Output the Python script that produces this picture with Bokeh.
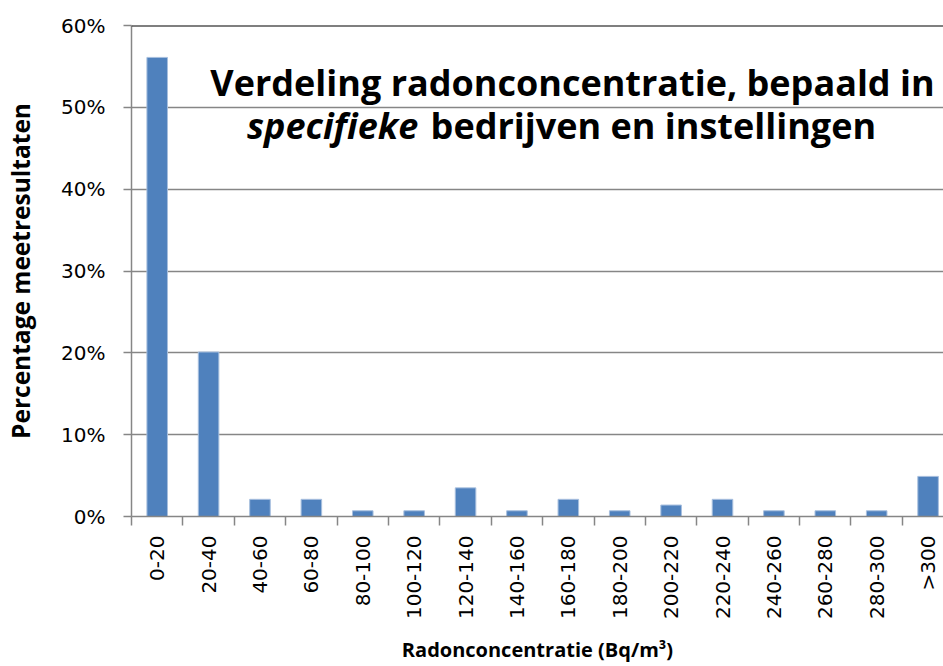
import numpy as np
from bokeh.plotting import figure
from bokeh.models import (Range1d, FixedTicker, PrintfTickFormatter, Span, Label,
                          ColumnDataSource)
from bokeh.embed import file_html
from bokeh.resources import INLINE

# ---- data ----
categories = ["0-20", "20-40", "40-60", "60-80", "80-100", "100-120", "120-140",
              "140-160", "160-180", "180-200", "200-220", "220-240", "240-260",
              "260-280", "280-300", ">300"]
percentages = [56.1, 20.1, 2.1, 2.1, 0.7, 0.7, 3.5, 0.7, 2.1, 0.7, 1.4, 2.1,
               0.7, 0.7, 0.7, 4.9]
y_ticks = [0, 10, 20, 30, 40, 50, 60]
title_line1 = "Verdeling radonconcentratie, bepaald in"
title_italic = "specifieke"
title_rest = "bedrijven en instellingen"
x_title = "Radonconcentratie (Bq/m³)"
y_title = "Percentage meetresultaten"

centers = np.arange(len(categories)) + 0.5
bounds = list(np.arange(len(categories) + 1))
src = ColumnDataSource(dict(x=centers, top=percentages, cat=categories))

GRID = "#868686"
TICK_FONT = "DejaVu Sans"
BOLD_FONT = "Open Sans"

p = figure(width=943, height=666, output_backend="svg", toolbar_location=None,
           x_range=Range1d(0, 15.8), y_range=Range1d(0, 60),
           min_border_left=131, min_border_top=25, min_border_right=0,
           min_border_bottom=148)
p.outline_line_color = None
p.background_fill_color = "white"
p.border_fill_color = "white"

p.vbar(x="x", top="top", width=0.4, bottom=0, source=src,
       fill_color="#4F81BD", line_color="#A7BFDE", line_width=1)

# y axis
p.yaxis.ticker = FixedTicker(ticks=y_ticks)
p.yaxis.formatter = PrintfTickFormatter(format="%d%%")
p.yaxis.major_tick_out = 8
p.yaxis.major_tick_in = 0
p.yaxis.minor_tick_line_color = None
p.yaxis.major_tick_line_color = GRID
p.yaxis.major_tick_line_width = 1.5
p.yaxis.axis_line_color = GRID
p.yaxis.axis_line_width = 1.5
p.yaxis.major_label_standoff = 18
p.yaxis.major_label_text_font = TICK_FONT
p.yaxis.major_label_text_font_size = "20px"
p.yaxis.major_label_text_color = "black"
p.yaxis.axis_label = y_title
p.yaxis.axis_label_text_font = BOLD_FONT
p.yaxis.axis_label_text_font_style = "bold"
p.yaxis.axis_label_text_font_size = "24.5px"
p.yaxis.axis_label_text_color = "black"
p.yaxis.axis_label_standoff = 21

# x axis
p.xaxis.ticker = FixedTicker(ticks=list(centers), minor_ticks=bounds)
p.xaxis.major_label_overrides = {float(c): lab for c, lab in zip(centers, categories)}
p.xaxis.major_label_orientation = np.pi / 2
p.xaxis.major_tick_line_color = None
p.xaxis.major_tick_out = 0
p.xaxis.major_tick_in = 0
p.xaxis.minor_tick_out = 9
p.xaxis.minor_tick_in = 0
p.xaxis.minor_tick_line_color = GRID
p.xaxis.minor_tick_line_width = 1.5
p.xaxis.axis_line_color = GRID
p.xaxis.axis_line_width = 1.5
p.xaxis.major_label_standoff = 10
p.xaxis.major_label_text_font = TICK_FONT
p.xaxis.major_label_text_font_size = "20px"
p.xaxis.major_label_text_color = "black"
p.xaxis.axis_label = x_title
p.xaxis.axis_label_text_font = BOLD_FONT
p.xaxis.axis_label_text_font_style = "bold"
p.xaxis.axis_label_text_font_size = "20px"
p.xaxis.axis_label_text_color = "black"
p.xaxis.axis_label_standoff = 14

# grid
p.xgrid.grid_line_color = None
p.ygrid.ticker = FixedTicker(ticks=y_ticks)
p.ygrid.grid_line_color = GRID
p.ygrid.grid_line_width = 1.5

p.add_layout(Span(location=60, dimension="width", line_color="black", line_width=2))

# title inside plot
p.add_layout(Label(x=8.58, y=53.0, text=title_line1, text_align="center",
                   text_baseline="alphabetic", text_font=BOLD_FONT,
                   text_font_style="bold", text_font_size="36px", text_color="black"))
p.add_layout(Label(x=5.58, y=47.75, text=title_italic, text_align="right",
                   text_baseline="alphabetic", text_font=BOLD_FONT,
                   text_font_style="bold italic", text_font_size="36px", text_color="black"))
p.add_layout(Label(x=5.82, y=47.75, text=title_rest, text_align="left",
                   text_baseline="alphabetic", text_font=BOLD_FONT,
                   text_font_style="bold", text_font_size="36px", text_color="black"))

open("out.html", "w").write(file_html(p, INLINE))
